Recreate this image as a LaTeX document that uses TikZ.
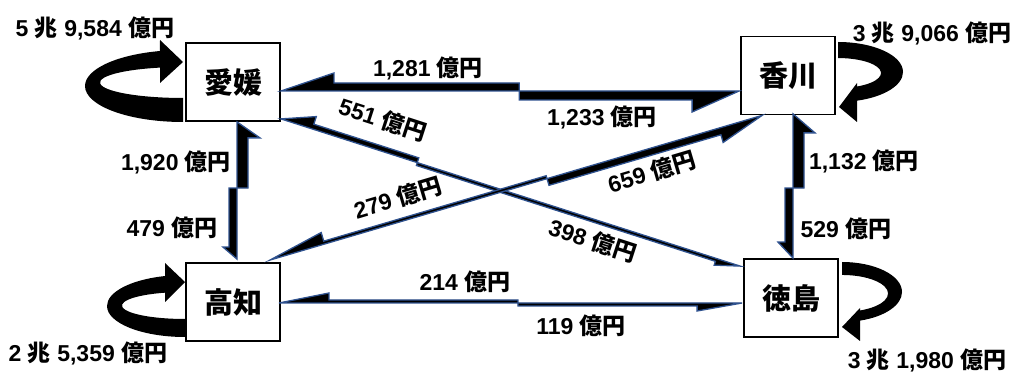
\documentclass[tikz,border=0pt]{standalone}
\usepackage{fontspec}
\setmainfont{Liberation Sans}
\newfontfamily\jp{Noto Sans CJK JP}
\usetikzlibrary{calc}
\definecolor{outl}{RGB}{47,82,143}
\newcommand{\oku}{{\jp 億円}}
\newcommand{\cho}{{\jp 兆}}
\newcommand{\halfarr}[5]{%
  \coordinate (hb) at ($(#1)!#4pt!(#2)$);
  \filldraw[harrow] (#1) -- (#2) -- ($(#2)!#3pt!-90:(#1)$) -- ($(hb)!#3pt!-90:(#1)$) -- ($(hb)!#5pt!-90:(#1)$) -- cycle;}
\begin{document}
\begin{tikzpicture}[x=1pt,y=1pt,
  box/.style={draw=black, line width=1.8pt, fill=white, minimum width=94pt, minimum height=78pt, inner sep=0pt, font=\jp\bfseries\fontsize{29}{31}\selectfont},
  lbl/.style={font=\bfseries\fontsize{23}{25}\selectfont, inner sep=0pt},
  harrow/.style={fill=black, draw=outl, line width=1.3pt, line join=miter},
  loopar/.style={fill=black}]
\useasboundingbox (0,0) rectangle (1014,372);

% self loops
\fill[loopar] (183,250) arc[start angle=-90, end angle=-256.4, x radius=98pt, y radius=36pt] -- (160,332) -- (183,310) -- (160,289) -- (160,304.4) arc[start angle=106.1, end angle=270, x radius=83pt, y radius=15.5pt] -- cycle;
\fill[loopar] (185,35) arc[start angle=-90, end angle=-255.14, x radius=78pt, y radius=31pt] -- (165,109) -- (185,90) -- (165,70) -- (165,79.3) arc[start angle=108.5, end angle=270, x radius=63pt, y radius=13.5pt] -- cycle;
\fill[loopar] (838,330) arc[start angle=90, end angle=-73, x radius=65pt, y radius=30pt] -- (857,250) -- (839,265) -- (857,289) -- (857,285.5) arc[start angle=-63.8, end angle=90, x radius=43pt, y radius=15pt] -- cycle;
\fill[loopar] (842,110) arc[start angle=90, end angle=-72.5, x radius=60pt, y radius=30pt] -- (860,31) -- (842,45) -- (860,64) -- (860,61.5) arc[start angle=-67, end angle=90, x radius=46pt, y radius=18.5pt] -- cycle;

% boxes
\node[box] (ehime) at (233,290) {愛媛};
\node[box] (kagawa) at (788,296.5) {香川};
\node[box] (kochi) at (233,70) {高知};
\node[box] (toku) at (791,74) {徳島};

% connector end points
\coordinate (a1) at ($(ehime.east)+(0,-9)$);
\coordinate (b1) at ($(kagawa.west)+(-1,-15.5)$);
\coordinate (m1) at ($(a1)!0.52!(b1)$);
\coordinate (a2) at ($(ehime.south)+(4,0)$);
\coordinate (b2) at ($(kochi.north)+(4,3)$);
\coordinate (m2) at ($(a2)!0.482!(b2)$);
\coordinate (a3) at ($(kagawa.south)+(5,1.5)$);
\coordinate (b3) at ($(toku.north)+(2,0)$);
\coordinate (m3) at ($(a3)!0.514!(b3)$);
\coordinate (a4) at ($(kochi.east)+(-2,-1)$);
\coordinate (b4) at ($(toku.west)+(-1,-5)$);
\coordinate (m4) at ($(a4)!0.516!(b4)$);
\coordinate (a5) at ($(ehime.south east)+(0,3)$);
\coordinate (b5) at ($(toku.north west)+(-3,-8)$);
\coordinate (m5) at ($(a5)!0.297!(b5)$);
\coordinate (a6) at ($(kochi.north east)+(-11,2)$);
\coordinate (b6) at ($(kagawa.south west)+(22,0)$);
\coordinate (m6) at ($(a6)!0.563!(b6)$);

% split arrows
\halfarr{a1}{m1}{8}{53}{18}
\halfarr{b1}{m1}{9}{47}{21}
\halfarr{a2}{m2}{11}{16}{23}
\halfarr{b2}{m2}{8}{12}{14}
\halfarr{a3}{m3}{11}{19}{22}
\halfarr{b3}{m3}{8}{16}{15}
\halfarr{a4}{m4}{3}{50}{10}
\halfarr{b4}{m4}{3}{45}{8}
\halfarr{a5}{m5}{5}{33}{13}
\halfarr{b5}{m5}{3}{25}{7}
\halfarr{a6}{m6}{3}{57}{12}
\halfarr{b6}{m6}{7}{45}{15}

% labels
\node[lbl] (l1) at (95,344) {5 \cho{} 9,584 \oku};
\node[lbl] (l2) at (428,304) {1,281 \oku};
\node[lbl] (l3) at (602,255) {1,233 \oku};
\node[lbl] (l4) at (932,339) {3 \cho{} 9,066 \oku};
\node[lbl, rotate=-18] (l5) at (383,253) {551 \oku};
\node[lbl] (l6) at (176,210) {1,920 \oku};
\node[lbl] (l7) at (172,144) {479 \oku};
\node[lbl, rotate=16.5] (l8) at (398,174) {279 \oku};
\node[lbl, rotate=16.5] (l9) at (652,200) {659 \oku};
\node[lbl] (l10) at (864,211) {1,132 \oku};
\node[lbl] (l11) at (846,143) {529 \oku};
\node[lbl, rotate=-18] (l12) at (593,132) {398 \oku};
\node[lbl] (l13) at (88,19) {2 \cho{} 5,359 \oku};
\node[lbl] (l14) at (465,90) {214 \oku};
\node[lbl] (l15) at (581,46) {119 \oku};
\node[lbl] (l16) at (927,12) {3 \cho{} 1,980 \oku};
\end{tikzpicture}
\end{document}
